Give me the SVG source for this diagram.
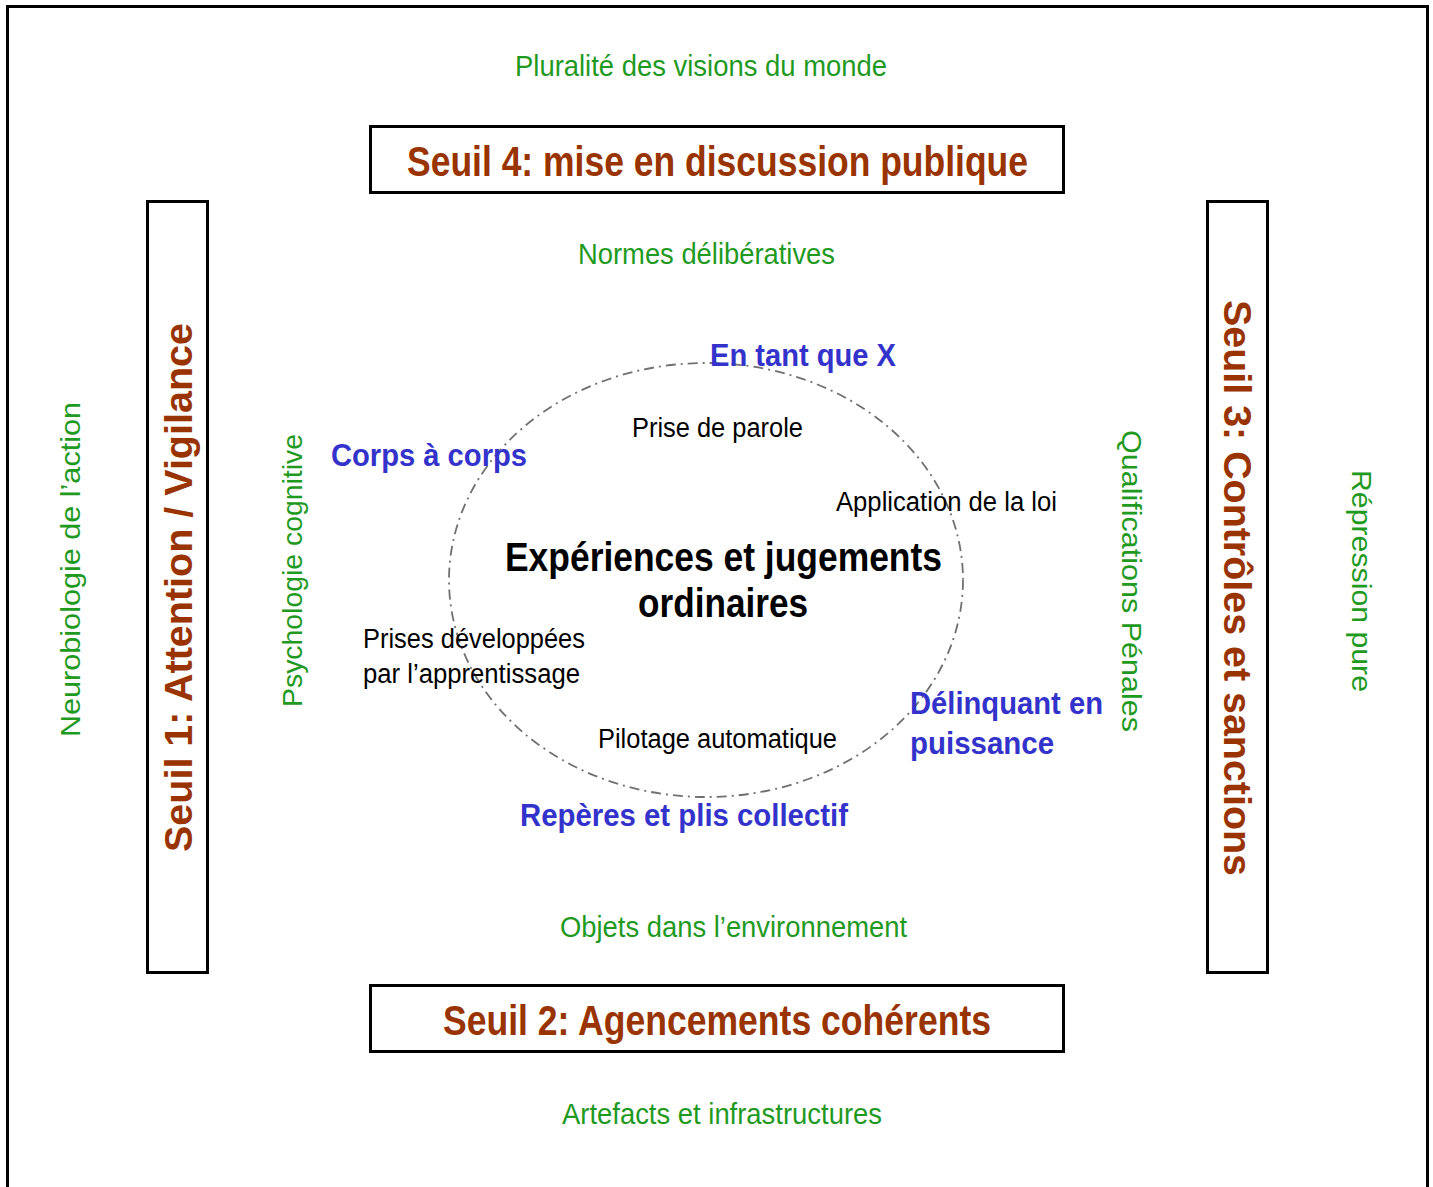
<svg xmlns="http://www.w3.org/2000/svg" width="1433" height="1187" viewBox="0 0 1433 1187">
<style>
text{font-family:"Liberation Sans",Arial,sans-serif;}
.g{fill:#1f9a1f;font-size:28px;}
.gh{fill:#1f9a1f;font-size:30px;}
.br{fill:#993300;font-weight:bold;font-size:38px;}
.brh{fill:#993300;font-weight:bold;font-size:42px;}
.bl{fill:#3333cc;font-weight:bold;font-size:31px;}
.k{fill:#000;font-size:27px;}
.kb{fill:#000;font-weight:bold;font-size:40px;}
.box{fill:#fff;stroke:#000;stroke-width:3;}
</style>
<rect width="1433" height="1187" fill="#fff"/>
<path d="M7.5,1187 V6.5 H1427.5 V1187" fill="none" stroke="#000" stroke-width="3"/>
<g id="connectors">
<ellipse cx="706" cy="580" rx="257" ry="217" fill="none" stroke="#707070" stroke-width="1.8" stroke-dasharray="10,5,2,5"/>
</g>
<g id="top-labels">
<text class="gh" x="515" y="76" textLength="372" lengthAdjust="spacingAndGlyphs">Pluralité des visions du monde</text>
<text class="gh" x="578" y="264" textLength="257" lengthAdjust="spacingAndGlyphs">Normes délibératives</text>
</g>
<g id="seuil4">
<rect class="box" x="370.5" y="126.5" width="693" height="66"/>
<text class="brh" x="407" y="176" textLength="621" lengthAdjust="spacingAndGlyphs">Seuil 4: mise en discussion publique</text>
</g>
<g id="seuil1">
<rect class="box" x="147.5" y="201.5" width="60" height="771"/>
<text class="br" transform="translate(192,852) rotate(-90)" x="0" y="0" textLength="529" lengthAdjust="spacingAndGlyphs">Seuil 1: Attention / Vigilance</text>
</g>
<g id="seuil3">
<rect class="box" x="1207.5" y="201.5" width="60" height="771"/>
<text class="br" transform="translate(1224,300) rotate(90)" x="0" y="0" textLength="576" lengthAdjust="spacingAndGlyphs">Seuil 3: Contrôles et sanctions</text>
</g>
<g id="seuil2">
<rect class="box" x="370.5" y="985.5" width="693" height="66"/>
<text class="brh" x="443" y="1035" textLength="548" lengthAdjust="spacingAndGlyphs">Seuil 2: Agencements cohérents</text>
</g>
<g id="side-labels">
<text class="g" transform="translate(80,737) rotate(-90)" textLength="335" lengthAdjust="spacingAndGlyphs">Neurobiologie de l’action</text>
<text class="g" transform="translate(302,707) rotate(-90)" textLength="273" lengthAdjust="spacingAndGlyphs">Psychologie cognitive</text>
<text class="g" transform="translate(1122,430) rotate(90)" textLength="302" lengthAdjust="spacingAndGlyphs">Qualifications Pénales</text>
<text class="g" transform="translate(1352,470) rotate(90)" textLength="222" lengthAdjust="spacingAndGlyphs">Répression pure</text>
</g>
<g id="center">
<text class="kb" x="505" y="571" textLength="437" lengthAdjust="spacingAndGlyphs">Expériences et jugements</text>
<text class="kb" x="638" y="617" textLength="170" lengthAdjust="spacingAndGlyphs">ordinaires</text>
</g>
<g id="inner-labels">
<text class="k" x="632" y="437" textLength="171" lengthAdjust="spacingAndGlyphs">Prise de parole</text>
<text class="k" x="836" y="511" textLength="221" lengthAdjust="spacingAndGlyphs">Application de la loi</text>
<text class="k" x="363" y="648" textLength="222" lengthAdjust="spacingAndGlyphs">Prises développées</text>
<text class="k" x="363" y="683" textLength="217" lengthAdjust="spacingAndGlyphs">par l’apprentissage</text>
<text class="k" x="598" y="748" textLength="239" lengthAdjust="spacingAndGlyphs">Pilotage automatique</text>
</g>
<g id="blue-labels">
<text class="bl" x="710" y="366" textLength="186" lengthAdjust="spacingAndGlyphs">En tant que X</text>
<text class="bl" x="331" y="466" textLength="196" lengthAdjust="spacingAndGlyphs">Corps à corps</text>
<text class="bl" x="910" y="714" textLength="193" lengthAdjust="spacingAndGlyphs">Délinquant en</text>
<text class="bl" x="910" y="754" textLength="144" lengthAdjust="spacingAndGlyphs">puissance</text>
<text class="bl" x="520" y="826" textLength="328" lengthAdjust="spacingAndGlyphs">Repères et plis collectif</text>
</g>
<g id="bottom-labels">
<text class="gh" x="560" y="937" textLength="347" lengthAdjust="spacingAndGlyphs">Objets dans l’environnement</text>
<text class="gh" x="562" y="1124" textLength="320" lengthAdjust="spacingAndGlyphs">Artefacts et infrastructures</text>
</g>
</svg>
